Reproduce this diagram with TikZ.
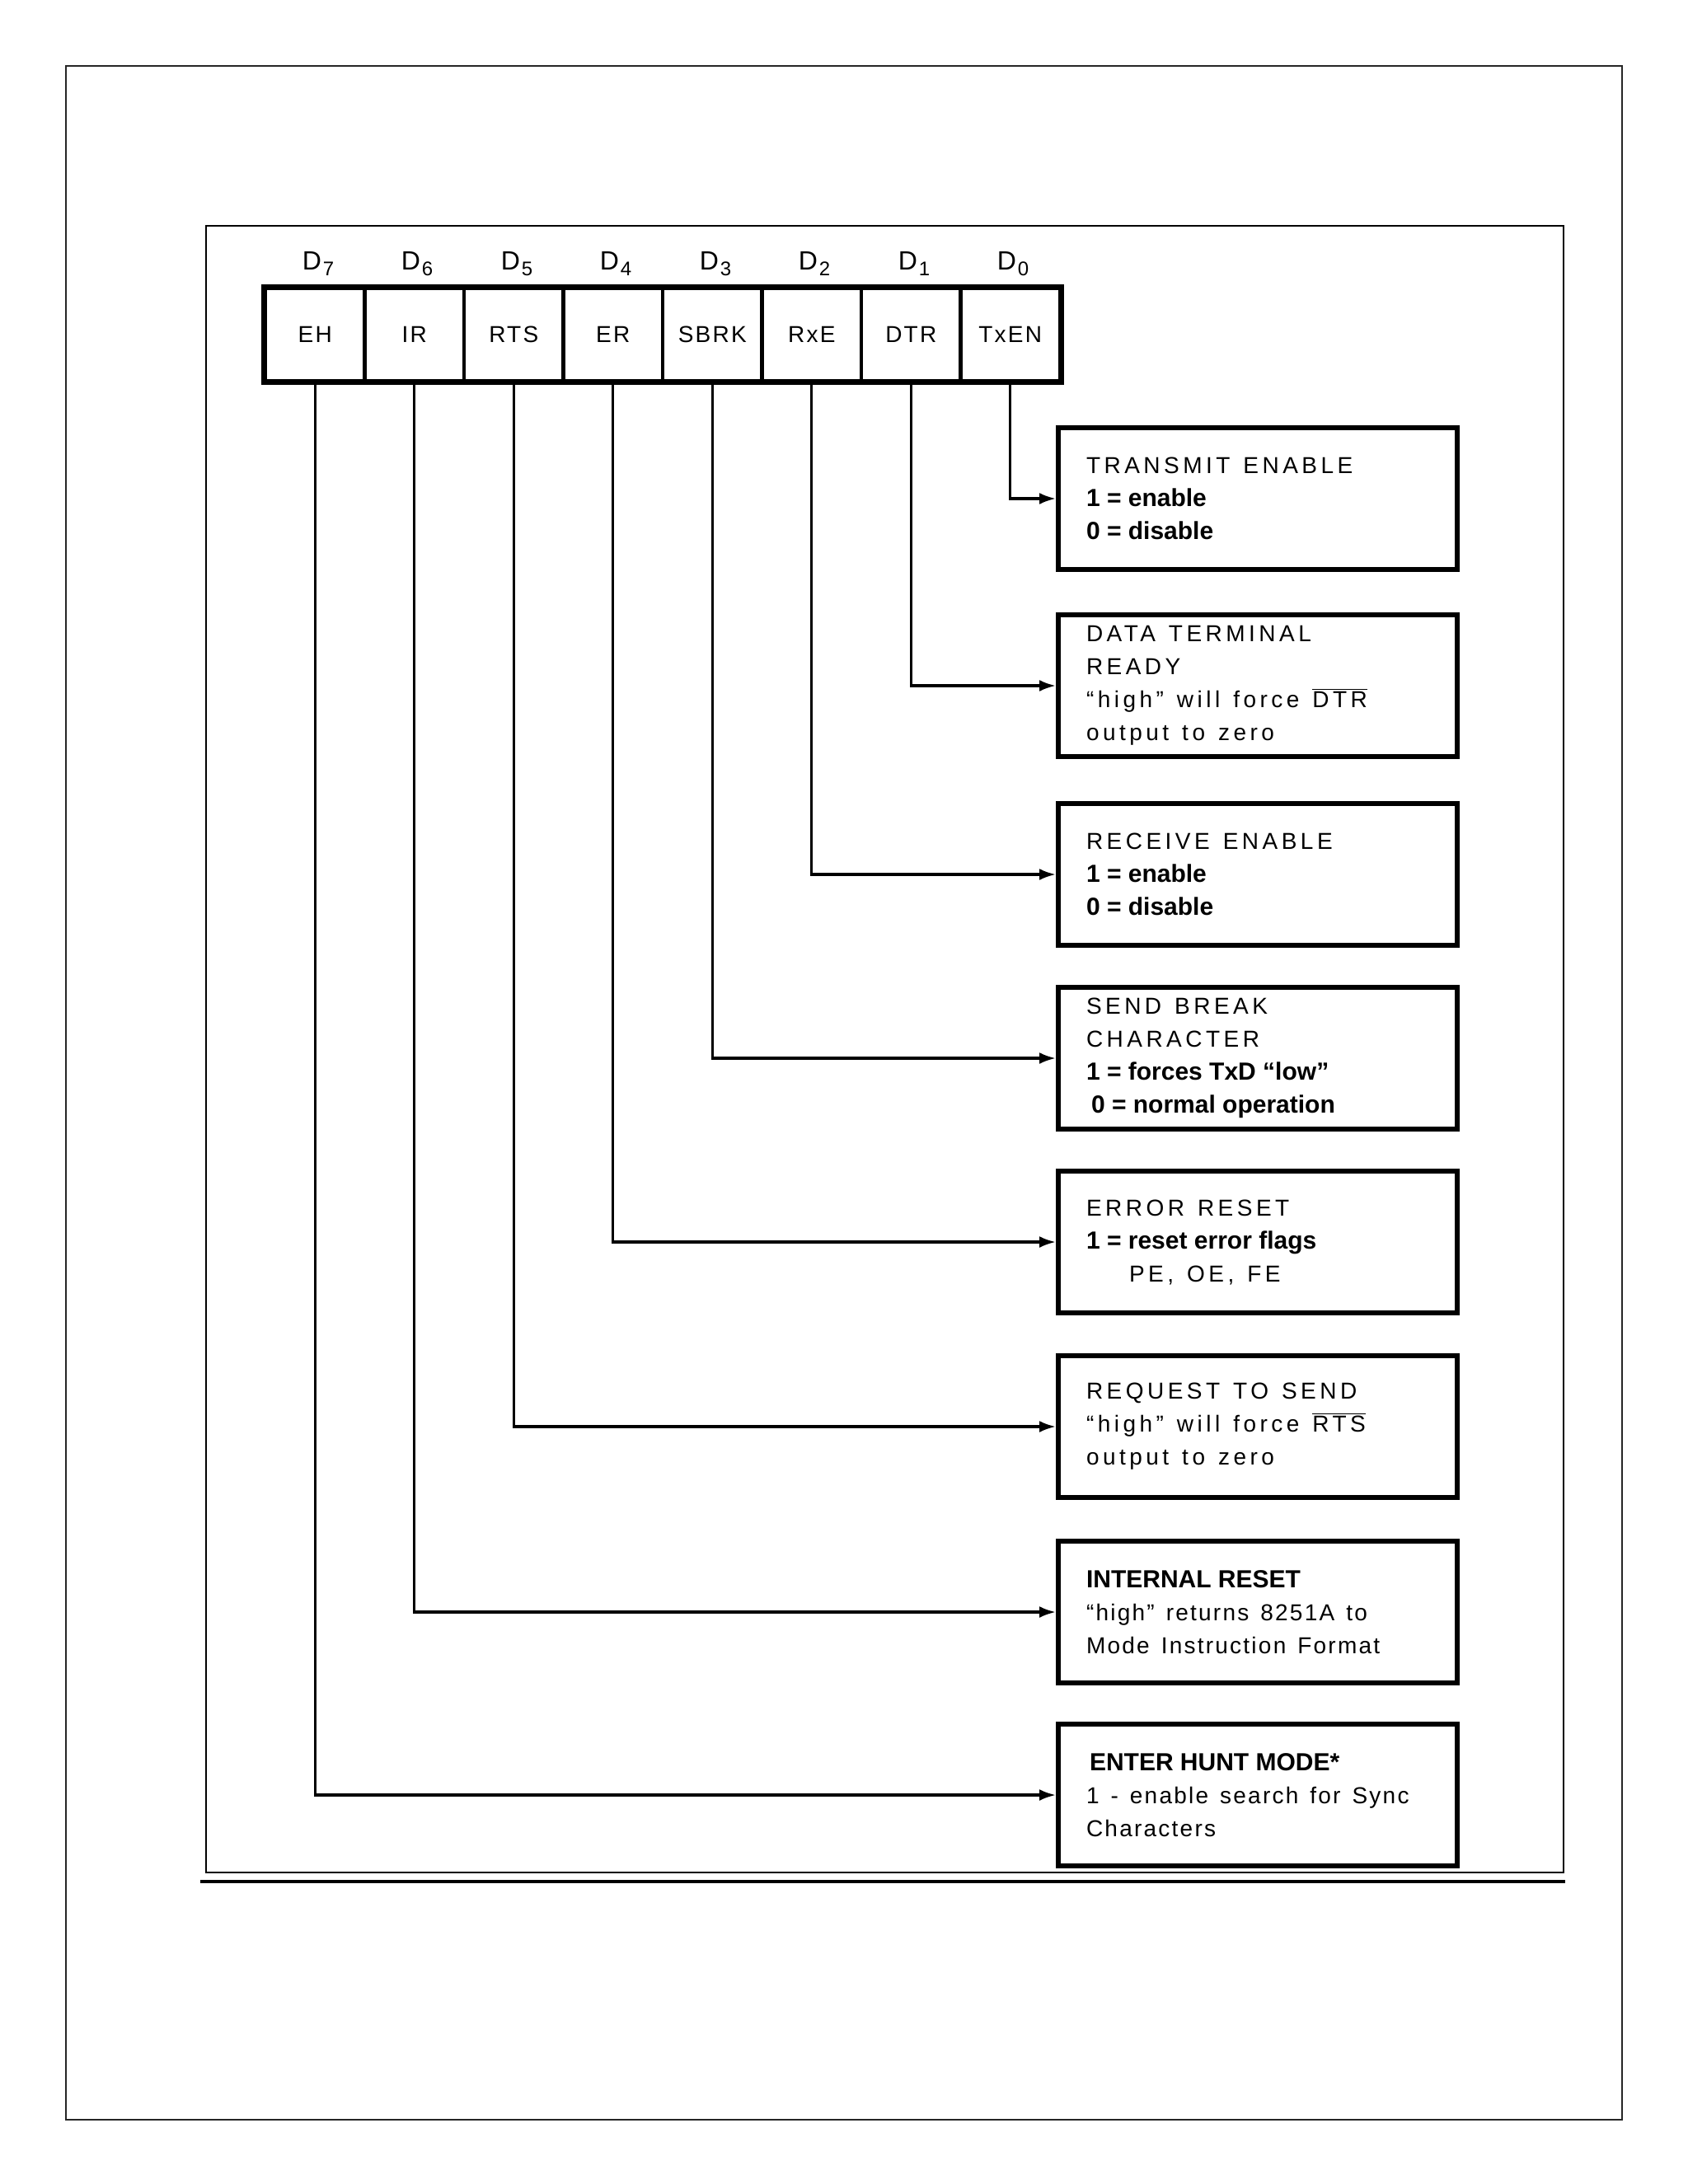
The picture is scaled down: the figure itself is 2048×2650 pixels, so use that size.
\documentclass[tikz,border=0pt]{standalone}
\usepackage{fontspec}
\setmainfont{Liberation Sans}
\newfontfamily\tfontx[LetterSpace=16]{Liberation Sans}
\newfontfamily\cfont[LetterSpace=8]{Liberation Sans}
\usetikzlibrary{arrows.meta}
\newcommand\bl{\normalfont\bfseries\spaceskip=0pt\relax}
\newcommand\nr{\cfont\spaceskip=7pt plus 1pt minus 1pt\relax}
\newcommand\ovl[1]{\ensuremath{\overline{\mbox{#1}}}}
\newcommand\dsub[1]{D\kern1pt\raisebox{-0.45ex}{\fontsize{12}{12}\selectfont #1}}
\tikzset{
 cell/.style={draw, line width=2.2pt, minimum width=60.25pt, minimum height=56pt, inner sep=0pt, font=\fontsize{14}{16}\selectfont\cfont},
 dlabel/.style={inner sep=0pt, font=\fontsize{16}{18}\selectfont},
 desc/.style={draw, line width=3pt, anchor=north west, minimum height=86pt, text width=208pt, inner xsep=17pt, inner ysep=0pt, align=left, font=\fontsize{14}{20}\selectfont\tfontx,
   execute at begin node={\spaceskip=8pt plus 2pt minus 1pt\relax}},
 conn/.style={line width=1.6pt, -{Latex[length=10pt,width=7pt]}},
}
\begin{document}
\begin{tikzpicture}[x=0.5pt,y=-0.5pt]
\useasboundingbox (0,0) rectangle (2048,2650);
\fill[white] (0,0) rectangle (2048,2650);
% frames
\draw[line width=1pt, black!85] (80,80) rectangle (1968,2572);
\draw[line width=1.2pt] (250,274) rectangle (1897,2272);
\draw[line width=2pt] (243,2283) -- (1899,2283);
% register cells
\node[cell] (c7) at (382.25,406) {EH};
\node[cell] (c6) at (502.75,406) {IR};
\node[cell] (c5) at (623.25,406) {RTS};
\node[cell] (c4) at (743.75,406) {ER};
\node[cell] (c3) at (864.25,406) {SBRK};
\node[cell] (c2) at (984.75,406) {RxE};
\node[cell] (c1) at (1105.25,406) {DTR};
\node[cell] (c0) at (1225.75,406) {TxEN};
\draw[line width=3pt] (c7.north west) rectangle (c0.south east);
% bit labels
\node[dlabel] (d7) at (386,320) {\dsub{7}};
\node[dlabel] (d6) at (506,320) {\dsub{6}};
\node[dlabel] (d5) at (627,320) {\dsub{5}};
\node[dlabel] (d4) at (747,320) {\dsub{4}};
\node[dlabel] (d3) at (868,320) {\dsub{3}};
\node[dlabel] (d2) at (988,320) {\dsub{2}};
\node[dlabel] (d1) at (1109,320) {\dsub{1}};
\node[dlabel] (d0) at (1229,320) {\dsub{0}};
% description boxes
\node[desc] (b1) at (1281,516) {TRANSMIT ENABLE\\{\bl\fontsize{15}{20}\selectfont 1 = enable}\\{\bl\fontsize{15}{20}\selectfont 0 = disable}};
\node[desc] (b2) at (1281,743) {DATA TERMINAL\\READY\\“high” will force \ovl{DTR}\\output to zero};
\node[desc] (b3) at (1281,972) {RECEIVE ENABLE\\{\bl\fontsize{15}{20}\selectfont 1 = enable}\\{\bl\fontsize{15}{20}\selectfont 0 = disable}};
\node[desc] (b4) at (1281,1195) {SEND BREAK\\CHARACTER\\{\bl\fontsize{15}{20}\selectfont 1 = forces TxD “low”}\\{\bl\fontsize{15}{20}\selectfont\hspace{3pt}0 = normal operation}};
\node[desc] (b5) at (1281,1418) {ERROR RESET\\{\bl\fontsize{15}{20}\selectfont 1 = reset error flags}\\\hspace{26pt}PE, OE, FE};
\node[desc] (b6) at (1281,1642) {REQUEST TO SEND\\“high” will force \ovl{RTS}\\output to zero};
\node[desc] (b7) at (1281,1867) {{\bl\fontsize{15}{20}\selectfont INTERNAL RESET}\\{\nr “high” returns 8251A to}\\{\nr Mode Instruction Format}};
\node[desc] (b8) at (1281,2089) {{\bl\fontsize{15}{20}\selectfont\hspace{2pt}ENTER HUNT MODE*}\\{\nr 1 - enable search for Sync}\\{\nr Characters}};
% connectors
\draw[conn] (c0.south) |- (b1.west);
\draw[conn] (c1.south) |- (b2.west);
\draw[conn] (c2.south) |- (b3.west);
\draw[conn] (c3.south) |- (b4.west);
\draw[conn] (c4.south) |- (b5.west);
\draw[conn] (c5.south) |- (b6.west);
\draw[conn] (c6.south) |- (b7.west);
\draw[conn] (c7.south) |- (b8.west);
\end{tikzpicture}
\end{document}
